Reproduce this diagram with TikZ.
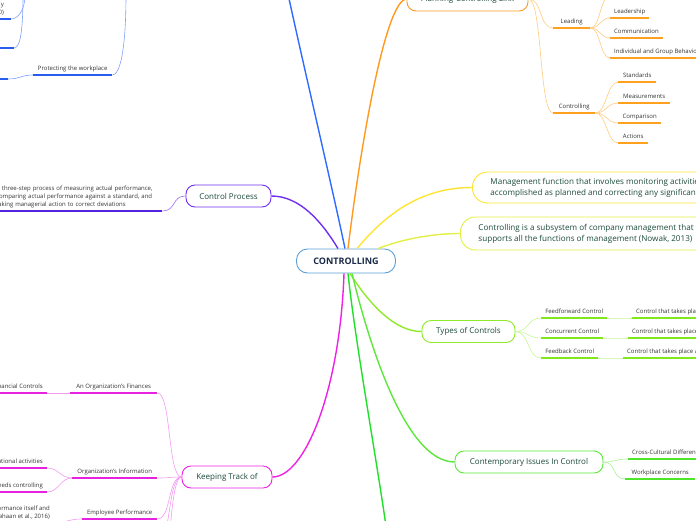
\documentclass[tikz,border=0pt]{standalone}
\usepackage{fontspec}
\setmainfont{Open Sans}
\usetikzlibrary{positioning}

\definecolor{ctrB}{HTML}{5A9FD8}
\definecolor{roottxt}{HTML}{1A2A48}
\definecolor{topictxt}{HTML}{1B4A3C}
\definecolor{leaftxt}{HTML}{333333}
\definecolor{blueC}{HTML}{2F6BFF}
\definecolor{blueL}{HTML}{7F9FFF}
\definecolor{blueU}{HTML}{2A5CF0}
\definecolor{orangeC}{HTML}{FF9A1F}
\definecolor{orangeL}{HTML}{FFCB80}
\definecolor{orangeU}{HTML}{FFA11F}
\definecolor{yellowC}{HTML}{FFE433}
\definecolor{ylgC}{HTML}{E2EF44}
\definecolor{purpleC}{HTML}{6F2FF0}
\definecolor{purpleL}{HTML}{9A6CF2}
\definecolor{purpleU}{HTML}{5522DD}
\definecolor{magC}{HTML}{EE22E6}
\definecolor{magL}{HTML}{F39AF0}
\definecolor{magU}{HTML}{E622E0}
\definecolor{limeC}{HTML}{8FEA2A}
\definecolor{limeL}{HTML}{C7F59A}
\definecolor{limeU}{HTML}{80E81C}
\definecolor{greenC}{HTML}{5CE83A}
\definecolor{greenL}{HTML}{A6F38F}
\definecolor{greenU}{HTML}{4EE62A}
\definecolor{brightG}{HTML}{22E02A}

\tikzset{
  rootbox/.style={draw=ctrB, line width=0.9pt, rounded corners=11pt, fill=white, text=roottxt,
    font=\fontsize{9}{11}\selectfont\bfseries, minimum width=99pt, minimum height=24pt},
  topic/.style={draw, line width=0.9pt, rounded corners=9pt, fill=white, text=topictxt,
    font=\fontsize{8}{10}\selectfont, minimum height=22pt, inner xsep=0pt},
  note/.style={topic, anchor=west, align=left, inner xsep=18pt, rounded corners=15pt,
    font=\fontsize{8.1}{11}\selectfont},
  leaf/.style={anchor=south west, font=\fontsize{6}{8}\selectfont, text=leaftxt, inner xsep=4pt,
    inner ysep=3.2pt, text height=4.4pt, text depth=1.2pt, minimum width=#1},
  leaf/.default=0pt,
  desc/.style={font=\fontsize{6}{8}\selectfont, text=leaftxt, inner xsep=2pt, inner ysep=3pt},
  trunk/.style={line width=1.4pt},
  sub/.style={line width=0.6pt},
  ul/.style={line width=1.3pt},
}

\begin{document}
\begin{tikzpicture}[x=1pt,y=-1pt]
\useasboundingbox (0,0) rectangle (696,520);
\clip (0,0) rectangle (696,520);

% main topics
\node[rootbox] (ctr) at (346,261) {CONTROLLING};
\node[topic, draw=purpleC, minimum width=85pt] (cproc) at (228.5,196) {Control Process};
\node[topic, draw=magC, minimum width=90pt] (track) at (227,477) {Keeping Track of};
\node[topic, draw=orangeC, minimum width=121pt, minimum height=24pt] (plan) at (467.5,-1) {Planning-Controlling Link};
\node[note, draw=yellowC, minimum height=31pt] (mgmt) at (472,187.5)
  {Management function that involves monitoring activities to ensure that they're being\\
   accomplished as planned and correcting any significant deviations};
\node[note, draw=ylgC, minimum height=33pt] (subsys) at (460,233.5)
  {Controlling is a subsystem of company management that\\
   supports all the functions of management (Nowak, 2013)};
\node[topic, draw=limeC, minimum width=93pt] (types) at (468.5,331.5) {Types of Controls};
\node[topic, draw=greenC, minimum width=148pt] (issues) at (529,462) {Contemporary Issues In Control};

% branches leaving the centre
\coordinate (blueTop) at (288,-6);
\coordinate (greenBot) at (386,526);
\draw[trunk, blueC] ([xshift=-1pt]ctr.north) .. controls (335,200) and (300,50) .. (blueTop);
\draw[trunk, orangeC] ([xshift=2pt]ctr.north) .. controls (360,150) and (385,0) .. (plan.west);
\draw[trunk, yellowC] ([xshift=11pt]ctr.north) .. controls (385,215) and (420,187.5) .. (mgmt.west);
\draw[trunk, ylgC] ([xshift=32pt]ctr.north) .. controls (400,240) and (430,233.5) .. (subsys.west);
\draw[trunk, purpleC] ([xshift=-8pt]ctr.north) .. controls (322,222) and (300,196) .. (cproc.east);
\draw[trunk, limeC] ([xshift=4pt]ctr.south) .. controls (370,305) and (395,331.5) .. (types.west);
\draw[trunk, greenC] ([xshift=6pt]ctr.south) .. controls (368,340) and (405,462) .. (issues.west);
\draw[trunk, brightG] ([xshift=2pt]ctr.south) .. controls (355,340) and (375,450) .. (greenBot);
\draw[trunk, magC] ([xshift=-2pt]ctr.south) .. controls (340,390) and (305,477) .. (track.east);

% blue corner (top left)
\node[leaf=79pt] (prot) at (33,75) {Protecting the workplace};
\node[desc, anchor=south east, align=right, inner xsep=0pt] (topA) at (4,19) {y\\0)};
\coordinate (blueA) at (126,-6);
\coordinate (blueB) at (25,-6);
\coordinate (blueC2) at (23,-6);
\coordinate (topAend) at (11,19);
\coordinate (topBend) at (14,48);
\coordinate (protAend) at (8,79);
\draw[sub, blueL] (blueA) .. controls (126,50) and (120,75) .. (prot.south east);
\draw[sub, blueL] (blueB) .. controls (25,12) and (17,19) .. (topAend);
\draw[sub, blueL] (blueC2) .. controls (23,38) and (19,48) .. (topBend);
\draw[sub, blueL] (prot.south west) .. controls +(-12,0) and +(12,0) .. (protAend);
\draw[ul, blueU] (prot.south west) -- (prot.south east);
\draw[ul, blueU] (-5,19) -- (topAend);
\draw[ul, blueU] (-5,48) -- (topBend);
\draw[ul, blueU] (-5,79) -- (protAend);

% orange: planning-controlling link
\node[leaf=37pt] (lead) at (553,28) {Leading};
\node[leaf=42pt] (ctrl) at (553,113) {Controlling};
\node[leaf=39pt] (ldr) at (610,18) {Leadership};
\node[leaf=48pt] (comm) at (610,38) {Communication};
\node[leaf] (indiv) at (610,58) {Individual and Group Behavior};
\node[leaf=38pt] (std) at (618,82) {Standards};
\node[leaf=52pt] (meas) at (618,103) {Measurements};
\node[leaf=43pt] (comp) at (618,123) {Comparison};
\node[leaf=30pt] (act) at (618,143) {Actions};
\coordinate (motiv) at (610,-4);
\foreach \n in {lead,ctrl}
  \draw[sub, orangeL] (plan.east) .. controls +(14,0) and +(-14,0) .. (\n.south west);
\draw[sub, orangeL] (lead.south east) .. controls +(10,0) and +(-10,0) .. (motiv);
\foreach \n in {ldr,comm,indiv}
  \draw[sub, orangeL] (lead.south east) .. controls +(10,0) and +(-10,0) .. (\n.south west);
\foreach \n in {std,meas,comp,act}
  \draw[sub, orangeL] (ctrl.south east) .. controls +(11,0) and +(-11,0) .. (\n.south west);
\foreach \n in {lead,ctrl,ldr,comm,indiv,std,meas,comp,act}
  \draw[ul, orangeU] (\n.south west) -- (\n.south east);

% lime: types of controls
\node[leaf=66pt] (ff) at (541,318) {Feedforward Control};
\node[leaf=62pt] (cc) at (541,338) {Concurrent Control};
\node[leaf=57pt] (fb) at (541,358) {Feedback Control};
\node[leaf] (ffd) at (632,318) {Control that takes place before a work activity is done};
\node[leaf] (ccd) at (628,338) {Control that takes place while a work activity is in progress};
\node[leaf] (fbd) at (623,358) {Control that takes place after a work activity is done};
\foreach \n in {ff,cc,fb}
  \draw[sub, limeL] (types.east) .. controls +(14,0) and +(-14,0) .. (\n.south west);
\foreach \a/\b in {ff/ffd,cc/ccd,fb/fbd}
  \draw[sub, limeL] (\a.south east) .. controls +(10,0) and +(-10,0) .. (\b.south west);
\foreach \n in {ff,cc,fb,ffd,ccd,fbd}
  \draw[ul, limeU] (\n.south west) -- (\n.south east);

% green: contemporary issues
\node[leaf=80pt] (cross) at (628,459) {Cross-Cultural Differences};
\node[leaf=70pt] (wpc) at (625,479) {Workplace Concerns};
\foreach \n in {cross,wpc}
  \draw[sub, greenL] (issues.east) .. controls +(13,0) and +(-13,0) .. (\n.south west);
\foreach \n in {cross,wpc}
  \draw[ul, greenU] (\n.south west) -- (\n.south east);

% purple: control process
\node[desc, anchor=south west, align=left, text width=164pt] (cdesc) at (-6,211)
  {A three-step process of measuring actual performance,\\
   comparing actual performance against a standard, and\\
   taking managerial action to correct deviations};
\draw[sub, purpleL] (cdesc.south east) .. controls +(14,0) and +(-14,0) .. (cproc.west);
\draw[ul, purpleU] (cdesc.south west) -- (cdesc.south east);

% magenta: keeping track of
\node[leaf=87pt] (fin) at (70,393) {An Organization's Finances};
\node[leaf, anchor=south east] (finC) at (47,393) {Financial Controls};
\node[leaf=85pt] (info) at (72,478) {Organization's Information};
\node[leaf, anchor=south east] (infoA) at (47,468) {Operational activities};
\node[leaf, anchor=south east] (infoB) at (47,492) {Information that needs controlling};
\node[leaf=75pt] (emp) at (82,519) {Employee Performance};
\node[desc, anchor=south east, align=right] (empA) at (52,523)
  {Evaluating performance itself and\\(Shahaan et al., 2016)};
\coordinate (trackD) at (157,545);
\coordinate (trackE) at (157,600);
\foreach \n in {fin,info,emp}
  \draw[sub, magL] (track.west) .. controls +(-14,0) and +(14,0) .. (\n.south east);
\foreach \n in {trackD,trackE}
  \draw[sub, magL] (track.west) .. controls +(-14,0) and +(14,0) .. (\n);
\draw[sub, magL] (fin.south west) -- (finC.south east);
\foreach \n in {infoA,infoB}
  \draw[sub, magL] (info.south west) .. controls +(-12,0) and +(12,0) .. (\n.south east);
\draw[sub, magL] (emp.south west) .. controls +(-14,0) and +(14,0) .. (empA.south east);
\foreach \n in {fin,finC,info,infoA,infoB,emp,empA}
  \draw[ul, magU] (\n.south west) -- (\n.south east);
\end{tikzpicture}
\end{document}
